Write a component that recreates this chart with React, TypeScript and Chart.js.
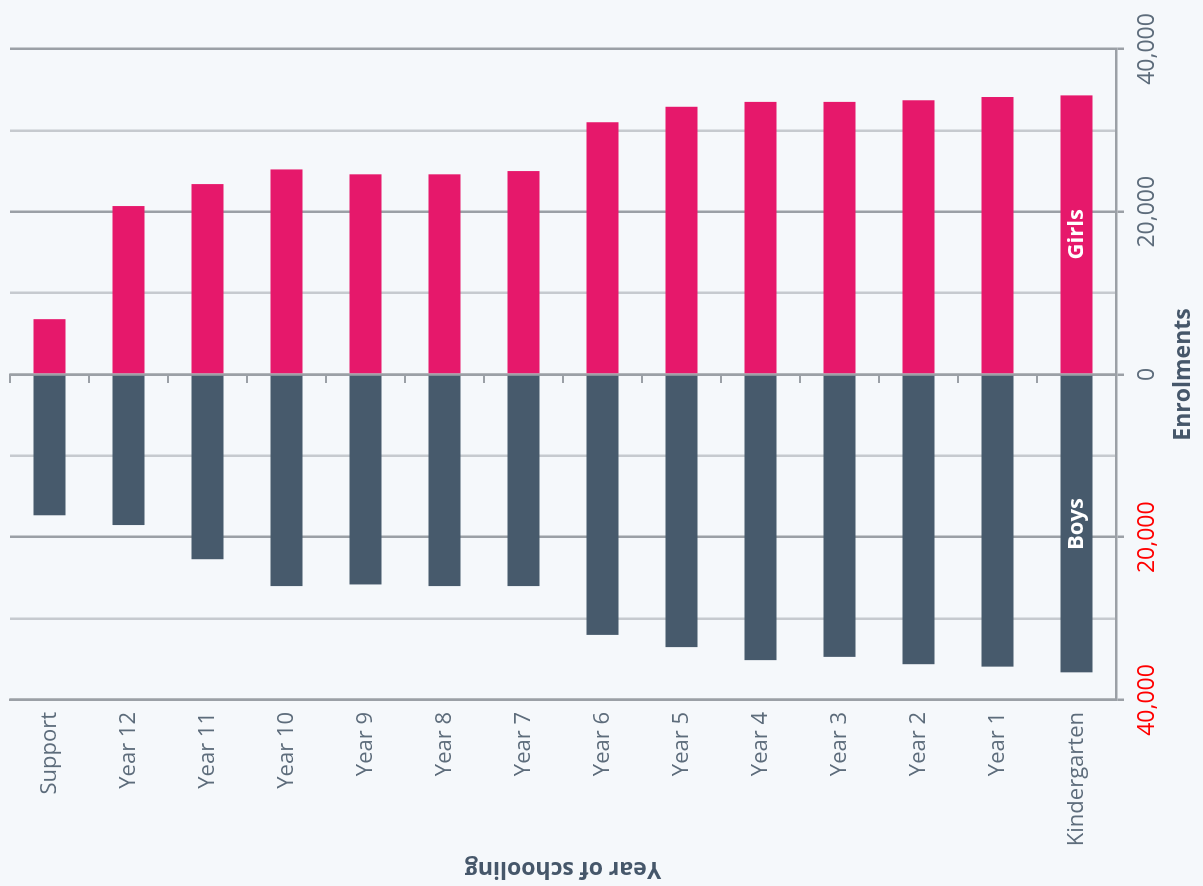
import React, { useEffect, useRef } from 'react';
import { Chart, registerables } from 'chart.js';

Chart.register(...registerables);

// ---- data ----
const categories = [
  'Support', 'Year 12', 'Year 11', 'Year 10', 'Year 9', 'Year 8', 'Year 7',
  'Year 6', 'Year 5', 'Year 4', 'Year 3', 'Year 2', 'Year 1', 'Kindergarten',
];
const girls = [6800, 20700, 23400, 25200, 24600, 24600, 25000, 31000, 32900, 33500, 33500, 33700, 34100, 34300];
const boys = [-17300, -18500, -22700, -26000, -25800, -26000, -26000, -32000, -33500, -35100, -34700, -35600, -35900, -36600];
const seriesNames = ['Girls', 'Boys'];
const valueTicks = [-40000, -20000, 0, 20000, 40000];
const axisTitles = { value: 'Enrolments', category: 'Year of schooling' };

// ---- styling ----
const W = 886;   // canvas width before rotation (= page height)
const H = 1203;  // canvas height before rotation (= page width)
const FONT = "'Open Sans', 'Noto Sans', sans-serif";
const BG = '#f5f8fb';
const PINK = '#e6186b';
const SLATE = '#475a6c';
const GRID_DARK = '#9ba0a6';
const GRID_LIGHT = '#c6cacf';
const TICK_COLOR = '#5d6c7b';
const TITLE_COLOR = '#46576a';

const barLabelPlugin = {
  id: 'barLabels',
  afterDatasetsDraw(chart: any) {
    const ctx = chart.ctx;
    const last = categories.length - 1;
    ctx.save();
    ctx.fillStyle = '#ffffff';
    ctx.font = `bold 22px ${FONT}`;
    ctx.textAlign = 'center';
    ctx.textBaseline = 'middle';
    chart.data.datasets.forEach((ds: any, i: number) => {
      const el = chart.getDatasetMeta(i).data[last];
      if (!el) return;
      const cx = (el.x + el.base) / 2;
      ctx.fillText(ds.label, cx, el.y);
    });
    ctx.restore();
  },
};

export default function App() {
  const ref = useRef<HTMLCanvasElement>(null);

  useEffect(() => {
    const canvas = ref.current;
    if (!canvas) return;
    const chart = new Chart(canvas, {
      type: 'bar',
      data: {
        labels: categories,
        datasets: [
          { label: seriesNames[0], data: girls, backgroundColor: PINK, borderWidth: 0 },
          { label: seriesNames[1], data: boys, backgroundColor: SLATE, borderWidth: 0 },
        ],
      },
      plugins: [barLabelPlugin],
      options: {
        animation: false,
        responsive: false,
        devicePixelRatio: 1,
        indexAxis: 'y',
        layout: { padding: { top: 10, right: 49, left: 0, bottom: 0 } },
        plugins: { legend: { display: false }, tooltip: { enabled: false } },
        datasets: { bar: { barPercentage: 0.5, categoryPercentage: 0.81 } },
        scales: {
          x: {
            type: 'linear',
            position: 'bottom',
            stacked: true,
            min: -40000,
            max: 40000,
            afterFit: (s: any) => { s.height = 87; s.paddingLeft = 0; s.paddingRight = 0; },
            grid: {
              color: (c: any) => (c.tick && c.tick.value % 20000 === 0 ? GRID_DARK : GRID_LIGHT),
              tickColor: (c: any) => (c.tick && c.tick.value % 20000 === 0 ? GRID_DARK : 'rgba(0,0,0,0)'),
              lineWidth: 2.5,
              tickLength: 8,
            },
            border: { display: true, color: GRID_DARK, width: 2.5 },
            ticks: {
              stepSize: 10000,
              autoSkip: false,
              maxRotation: 0,
              minRotation: 0,
              padding: 10,
              color: (c: any) => (c.tick && c.tick.value < 0 ? '#ff0000' : TICK_COLOR),
              font: { family: FONT, size: 23 },
              callback: (v: any) => (valueTicks.includes(Number(v)) ? Math.abs(Number(v)).toLocaleString('en-US') : ''),
            },
            title: {
              display: true,
              text: axisTitles.value,
              color: TITLE_COLOR,
              font: { family: FONT, size: 23, weight: 'bold' },
              padding: { top: 0, bottom: 6 },
            },
          },
          y: {
            type: 'category',
            position: 'left',
            stacked: true,
            offset: true,
            afterFit: (s: any) => { s.width = 186; s.paddingTop = 0; s.paddingBottom = 0; },
            grid: { display: false, drawTicks: false },
            border: { display: true, color: GRID_DARK, width: 2.5 },
            ticks: { padding: 12, color: TICK_COLOR, font: { family: FONT, size: 22 }, autoSkip: false },
            title: {
              display: true,
              text: axisTitles.category,
              color: TITLE_COLOR,
              font: { family: FONT, size: 23, weight: 'bold' },
              padding: { top: 4, bottom: 4 },
            },
          },
          y2: {
            axis: 'y',
            type: 'category',
            position: { x: 0 },
            offset: true,
            z: 1,
            afterFit: (s: any) => { s.paddingTop = 0; s.paddingBottom = 0; },
            grid: { drawOnChartArea: false, drawTicks: true, tickLength: 7, color: GRID_DARK, lineWidth: 2, offset: true },
            border: { display: true, color: GRID_DARK, width: 2.5 },
            ticks: { display: false },
          },
        },
      } as any,
    });
    return () => chart.destroy();
  }, []);

  return (
    <div style={{ position: 'fixed', left: 0, top: 0, width: H, height: W, background: BG, overflow: 'hidden' }}>
      <canvas
        ref={ref}
        width={W}
        height={H}
        style={{
          position: 'absolute',
          left: 0,
          top: 0,
          width: W,
          height: H,
          transformOrigin: '0 0',
          transform: `translateY(${W}px) rotate(-90deg)`,
        }}
      />
    </div>
  );
}
